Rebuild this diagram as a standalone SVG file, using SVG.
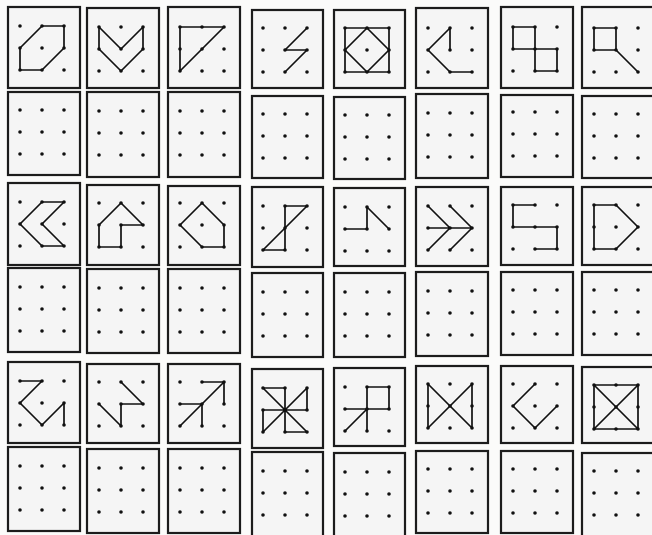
<svg xmlns="http://www.w3.org/2000/svg" xmlns:xlink="http://www.w3.org/1999/xlink" width="652" height="535" viewBox="0 0 652 535">
<style>
.box{fill:#f5f5f5;stroke:#1c1c1c;stroke-width:2.2}
.fig{fill:none;stroke:#111;stroke-width:1.7;stroke-linejoin:round;stroke-linecap:round}
.dot{fill:#111}
</style>
<defs>
<g id="dots">
<circle class="dot" cx="0" cy="0" r="1.8"/><circle class="dot" cx="22" cy="0" r="1.8"/><circle class="dot" cx="44" cy="0" r="1.8"/>
<circle class="dot" cx="0" cy="22" r="1.8"/><circle class="dot" cx="22" cy="22" r="1.8"/><circle class="dot" cx="44" cy="22" r="1.8"/>
<circle class="dot" cx="0" cy="44" r="1.8"/><circle class="dot" cx="22" cy="44" r="1.8"/><circle class="dot" cx="44" cy="44" r="1.8"/>
</g>
</defs>
<rect width="652" height="535" fill="#fbfbfa"/>

<!-- Row A -->
<g id="a1"><rect class="box" x="8" y="7" width="72" height="81"/><g transform="translate(20,26)"><use href="#dots"/><path class="fig" d="M22,0 H44 V22 L22,44 H0 V22 Z"/></g></g>
<g id="a2"><rect class="box" x="87" y="8" width="72" height="80"/><g transform="translate(99,27)"><use href="#dots"/><path class="fig" d="M0,0 V22 L22,44 L44,22 V0 L22,22 Z"/></g></g>
<g id="a3"><rect class="box" x="168" y="7" width="72" height="81"/><g transform="translate(180,27)"><use href="#dots"/><path class="fig" d="M0,0 H44 L0,44 Z"/></g></g>
<g id="a4"><rect class="box" x="252" y="10" width="71" height="78"/><g transform="translate(263,28)"><use href="#dots"/><path class="fig" d="M44,0 L22,22 H44 L22,44"/></g></g>
<g id="a5"><rect class="box" x="334" y="10" width="71" height="78"/><g transform="translate(345,28)"><use href="#dots"/><path class="fig" d="M0,0 H44 V44 H0 Z M22,0 L44,22 L22,44 L0,22 Z"/></g></g>
<g id="a6"><rect class="box" x="416" y="8" width="72" height="80"/><g transform="translate(428,28)"><use href="#dots"/><path class="fig" d="M22,22 V0 L0,22 L22,44 H44"/></g></g>
<g id="a7"><rect class="box" x="501" y="7" width="72" height="81"/><g transform="translate(513,27)"><use href="#dots"/><path class="fig" d="M0,0 H22 V44 H44 V22 H0 Z"/></g></g>
<g id="a8"><rect class="box" x="582" y="7" width="74" height="81"/><g transform="translate(594,28)"><use href="#dots"/><path class="fig" d="M0,0 H22 V22 H0 Z M22,22 L44,44"/></g></g>

<!-- Row B -->
<g id="b1"><rect class="box" x="8" y="92" width="72" height="83"/><use href="#dots" x="20" y="110"/></g>
<g id="b2"><rect class="box" x="87" y="92" width="72" height="85"/><use href="#dots" x="99" y="111"/></g>
<g id="b3"><rect class="box" x="168" y="92" width="72" height="85"/><use href="#dots" x="180" y="111"/></g>
<g id="b4"><rect class="box" x="252" y="96" width="71" height="82"/><use href="#dots" x="263" y="114"/></g>
<g id="b5"><rect class="box" x="334" y="97" width="71" height="82"/><use href="#dots" x="345" y="115"/></g>
<g id="b6"><rect class="box" x="416" y="94" width="72" height="84"/><use href="#dots" x="428" y="113"/></g>
<g id="b7"><rect class="box" x="501" y="95" width="72" height="82"/><use href="#dots" x="513" y="112"/></g>
<g id="b8"><rect class="box" x="582" y="96" width="74" height="82"/><use href="#dots" x="594" y="114"/></g>

<!-- Row C -->
<g id="c1"><rect class="box" x="8" y="183" width="72" height="82"/><g transform="translate(20,202)"><use href="#dots"/><path class="fig" d="M22,0 H44 L22,22 L44,44 H22 L0,22 Z"/></g></g>
<g id="c2"><rect class="box" x="87" y="185" width="72" height="80"/><g transform="translate(99,203)"><use href="#dots"/><path class="fig" d="M22,0 L44,22 H22 V44 H0 V22 Z"/></g></g>
<g id="c3"><rect class="box" x="168" y="186" width="72" height="79"/><g transform="translate(180,203)"><use href="#dots"/><path class="fig" d="M22,0 L44,22 V44 H22 L0,22 Z"/></g></g>
<g id="c4"><rect class="box" x="252" y="187" width="71" height="80"/><g transform="translate(263,206)"><use href="#dots"/><path class="fig" d="M22,0 H44 L0,44 H22 Z"/></g></g>
<g id="c5"><rect class="box" x="334" y="188" width="71" height="78"/><g transform="translate(345,207)"><use href="#dots"/><path class="fig" d="M0,22 H22 V0 L44,22"/></g></g>
<g id="c6"><rect class="box" x="416" y="187" width="72" height="79"/><g transform="translate(428,206)"><use href="#dots"/><path class="fig" d="M0,0 L22,22 L0,44 M22,0 L44,22 L22,44 M0,22 H44"/></g></g>
<g id="c7"><rect class="box" x="501" y="187" width="72" height="78"/><g transform="translate(513,205)"><use href="#dots"/><path class="fig" d="M22,0 H0 V22 H44 V44 H22"/></g></g>
<g id="c8"><rect class="box" x="582" y="187" width="74" height="78"/><g transform="translate(594,205)"><use href="#dots"/><path class="fig" d="M0,0 H22 L44,22 L22,44 H0 Z"/></g></g>

<!-- Row D -->
<g id="d1"><rect class="box" x="8" y="268" width="72" height="84"/><use href="#dots" x="20" y="287"/></g>
<g id="d2"><rect class="box" x="87" y="269" width="72" height="84"/><use href="#dots" x="99" y="288"/></g>
<g id="d3"><rect class="box" x="168" y="269" width="72" height="84"/><use href="#dots" x="180" y="288"/></g>
<g id="d4"><rect class="box" x="252" y="273" width="71" height="84"/><use href="#dots" x="263" y="292"/></g>
<g id="d5"><rect class="box" x="334" y="273" width="71" height="84"/><use href="#dots" x="345" y="292"/></g>
<g id="d6"><rect class="box" x="416" y="272" width="72" height="84"/><use href="#dots" x="428" y="291"/></g>
<g id="d7"><rect class="box" x="501" y="272" width="72" height="83"/><use href="#dots" x="513" y="290"/></g>
<g id="d8"><rect class="box" x="582" y="272" width="74" height="83"/><use href="#dots" x="594" y="290"/></g>

<!-- Row E -->
<g id="e1"><rect class="box" x="8" y="362" width="72" height="81"/><g transform="translate(20,381)"><use href="#dots"/><path class="fig" d="M0,0 H22 L0,22 L22,44 L44,22 V44"/></g></g>
<g id="e2"><rect class="box" x="87" y="364" width="72" height="79"/><g transform="translate(99,382)"><use href="#dots"/><path class="fig" d="M22,0 L44,22 H22 V44 L0,22"/></g></g>
<g id="e3"><rect class="box" x="168" y="364" width="72" height="79"/><g transform="translate(180,382)"><use href="#dots"/><path class="fig" d="M0,44 L44,0 M22,0 H44 V22 M0,22 H22 V44"/></g></g>
<g id="e4"><rect class="box" x="252" y="369" width="71" height="79"/><g transform="translate(263,388)"><use href="#dots"/><path class="fig" d="M0,0 L44,44 M44,0 L0,44 M0,0 H22 V44 M44,0 V22 H0 M44,44 H22 M0,44 V22"/></g></g>
<g id="e5"><rect class="box" x="334" y="368" width="71" height="78"/><g transform="translate(345,387)"><use href="#dots"/><path class="fig" d="M22,44 V0 H44 V22 H0 M0,44 L22,22"/></g></g>
<g id="e6"><rect class="box" x="416" y="366" width="72" height="77"/><g transform="translate(428,384)"><use href="#dots"/><path class="fig" d="M0,0 L44,44 V0 L0,44 Z"/></g></g>
<g id="e7"><rect class="box" x="501" y="366" width="72" height="77"/><g transform="translate(513,384)"><use href="#dots"/><path class="fig" d="M22,0 L0,22 L22,44 L44,22"/></g></g>
<g id="e8"><rect class="box" x="582" y="367" width="74" height="76"/><g transform="translate(594,385)"><use href="#dots"/><path class="fig" d="M0,0 H44 V44 H0 Z M0,0 L44,44 M44,0 L0,44"/></g></g>

<!-- Row F -->
<g id="f1"><rect class="box" x="8" y="447" width="72" height="84"/><use href="#dots" x="20" y="466"/></g>
<g id="f2"><rect class="box" x="87" y="449" width="72" height="84"/><use href="#dots" x="99" y="468"/></g>
<g id="f3"><rect class="box" x="168" y="449" width="72" height="84"/><use href="#dots" x="180" y="468"/></g>
<g id="f4"><rect class="box" x="252" y="452" width="71" height="88"/><use href="#dots" x="263" y="471"/></g>
<g id="f5"><rect class="box" x="334" y="453" width="71" height="88"/><use href="#dots" x="345" y="472"/></g>
<g id="f6"><rect class="box" x="416" y="451" width="72" height="82"/><use href="#dots" x="428" y="469"/></g>
<g id="f7"><rect class="box" x="501" y="451" width="72" height="82"/><use href="#dots" x="513" y="469"/></g>
<g id="f8"><rect class="box" x="582" y="453" width="74" height="88"/><use href="#dots" x="594" y="471"/></g>
</svg>
